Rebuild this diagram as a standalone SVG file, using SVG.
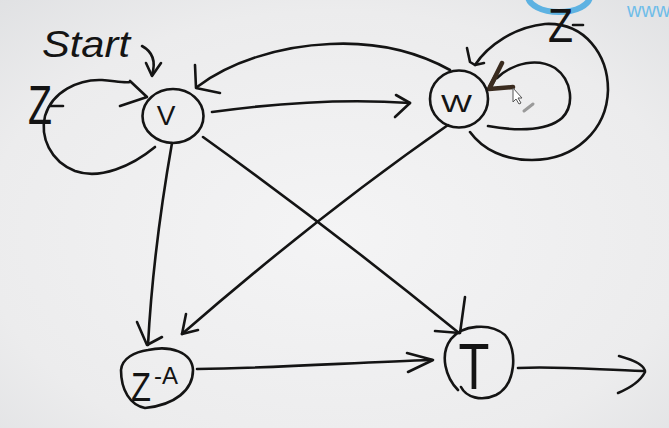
<svg xmlns="http://www.w3.org/2000/svg" width="669" height="428" viewBox="0 0 669 428">
  <defs>
    <radialGradient id="board" cx="0.5" cy="0.55" r="0.75">
      <stop offset="0" stop-color="#f4f4f5"/>
      <stop offset="0.7" stop-color="#ececed"/>
      <stop offset="1" stop-color="#e0e1e3"/>
    </radialGradient>
  </defs>
  <style>
    .ink { fill: none; stroke: #141414; stroke-width: 2.6; stroke-linecap: round; stroke-linejoin: round; }
    .brown { fill: none; stroke: #3a2b1f; stroke-width: 4.5; stroke-linecap: round; stroke-linejoin: round; }
    .lbl { font-family: "Liberation Sans", Arial, sans-serif; fill: #141414; }
  </style>

  <!-- board -->
  <rect x="0" y="0" width="669" height="428" fill="url(#board)"/>

  <!-- site mark, top right -->
  <g id="mark">
    <path d="M 528 -4 A 31 16 0 0 0 590 -4" fill="none" stroke="#5db2e2" stroke-width="6"/>
    <text x="627" y="17" font-family="Liberation Sans, Arial, sans-serif" font-size="20" fill="#6fbde9">www</text>
  </g>

  <!-- connectors -->
  <g id="connectors">
    <!-- start arrow into V -->
    <path class="ink" d="M 142 46 C 153 52, 156 62, 152 75"/>
    <path class="ink" d="M 146 63 L 152 76 L 161 63"/>

    <!-- V self loop (Z) -->
    <path class="ink" d="M 155 147 C 132 166, 100 180, 75 171 C 50 161, 40 137, 45 116 C 52 92, 78 79, 102 80 C 115 81, 124 83, 130 82"/>
    <path class="ink" d="M 130 81 L 147 97 L 120 106"/>

    <!-- V to W -->
    <path class="ink" d="M 212 112 C 270 104, 340 98, 410 103"/>
    <path class="ink" d="M 396 95 L 410 103 L 395 117"/>

    <!-- W back to V (upper arc) -->
    <path class="ink" d="M 450 70 C 410 48, 370 42, 330 44 C 280 46, 230 62, 197 87"/>
    <path class="ink" d="M 195 65 L 196 88 L 220 93"/>

    <!-- W outer self loop (Z) -->
    <path class="ink" d="M 475 65 C 488 45, 515 27, 545 24 C 585 22, 608 55, 608 90 C 607 130, 575 160, 532 160 C 505 160, 483 150, 470 132"/>
    <path class="ink" d="M 467 48 L 470 62 L 475 65 L 484 63"/>

    <!-- W inner self loop -->
    <path class="ink" d="M 488 126 C 510 130, 545 133, 562 118 C 575 105, 572 80, 555 68 C 538 58, 514 62, 497 78"/>
    <path class="brown" d="M 502 63 L 489 89 L 513 87"/>
    <path class="brown" d="M 496 76 L 490 87"/>

    <!-- V down to Z-A -->
    <path class="ink" d="M 172 143 C 162 200, 152 270, 148 345"/>
    <path class="ink" d="M 137 322 L 147 345 L 162 337"/>

    <!-- W to Z-A -->
    <path class="ink" d="M 448 125 Q 320 214 182 334"/>
    <path class="ink" d="M 186 314 L 182 334 L 198 330"/>

    <!-- V to T -->
    <path class="ink" d="M 203 137 Q 330 228 459 333"/>
    <path class="ink" d="M 465 297 L 460 333 L 435 331"/>

    <!-- Z-A to T -->
    <path class="ink" d="M 197 369 C 280 368, 360 362, 432 360"/>
    <path class="ink" d="M 407 353 L 433 360 L 408 372"/>

    <!-- exit from T -->
    <path class="ink" d="M 518 368 C 560 366, 600 370, 643 371"/>
    <path class="ink" d="M 619 356 C 630 359, 645 364, 645 372 C 641 380, 630 388, 618 393"/>

    <!-- transition labels -->
    <text x="28" y="124" class="lbl" font-size="56" textLength="24" lengthAdjust="spacingAndGlyphs">Z</text>
    <path class="ink" d="M 50 106 L 63 106"/>
    <text x="548" y="42" class="lbl" font-size="48" textLength="25" lengthAdjust="spacingAndGlyphs">Z</text>
    <path class="ink" d="M 573 25 L 583 25"/>
    <text x="42" y="57" class="lbl" font-size="36" font-style="italic" textLength="88" lengthAdjust="spacingAndGlyphs">Start</text>
  </g>

  <!-- states -->
  <g id="node-V">
    <ellipse class="ink" cx="173" cy="116" rx="30.5" ry="27"/>
    <text x="166" y="125" class="lbl" font-size="28" text-anchor="middle">V</text>
  </g>

  <g id="node-W">
    <ellipse class="ink" cx="459" cy="99" rx="29" ry="28.5"/>
    <text x="441" y="112" class="lbl" font-size="24" textLength="31" lengthAdjust="spacingAndGlyphs">W</text>
  </g>

  <g id="node-ZA">
    <path class="ink" d="M 148 350 C 170 345, 192 352, 193 370 C 193 390, 175 405, 145 408 C 130 405, 121 390, 121 370 C 122 358, 135 352, 148 350 Z"/>
    <text class="lbl"><tspan x="131" y="401" font-size="40" textLength="20" lengthAdjust="spacingAndGlyphs">Z</tspan><tspan x="154" y="384" font-size="24">-A</tspan></text>
  </g>

  <g id="node-T">
    <path class="ink" d="M 458 390 C 446 378, 439 355, 451 339 C 462 325, 490 322, 505 335 C 518 350, 516 385, 496 395 C 481 402, 466 397, 461 387"/>
    <text class="lbl" font-size="46" text-anchor="middle" transform="translate(474 389) scale(1.1 1.42)">T</text>
  </g>

  <!-- pointer -->
  <g id="pointer">
    <path d="M 513 88 L 513 102 L 516 99 L 519 104 L 521 103 L 518 98 L 522 98 Z" fill="#ffffff" stroke="#555" stroke-width="1"/>
    <path d="M 524 111 L 533 104" stroke="#9a9a9a" stroke-width="3" stroke-linecap="round"/>
  </g>
</svg>
